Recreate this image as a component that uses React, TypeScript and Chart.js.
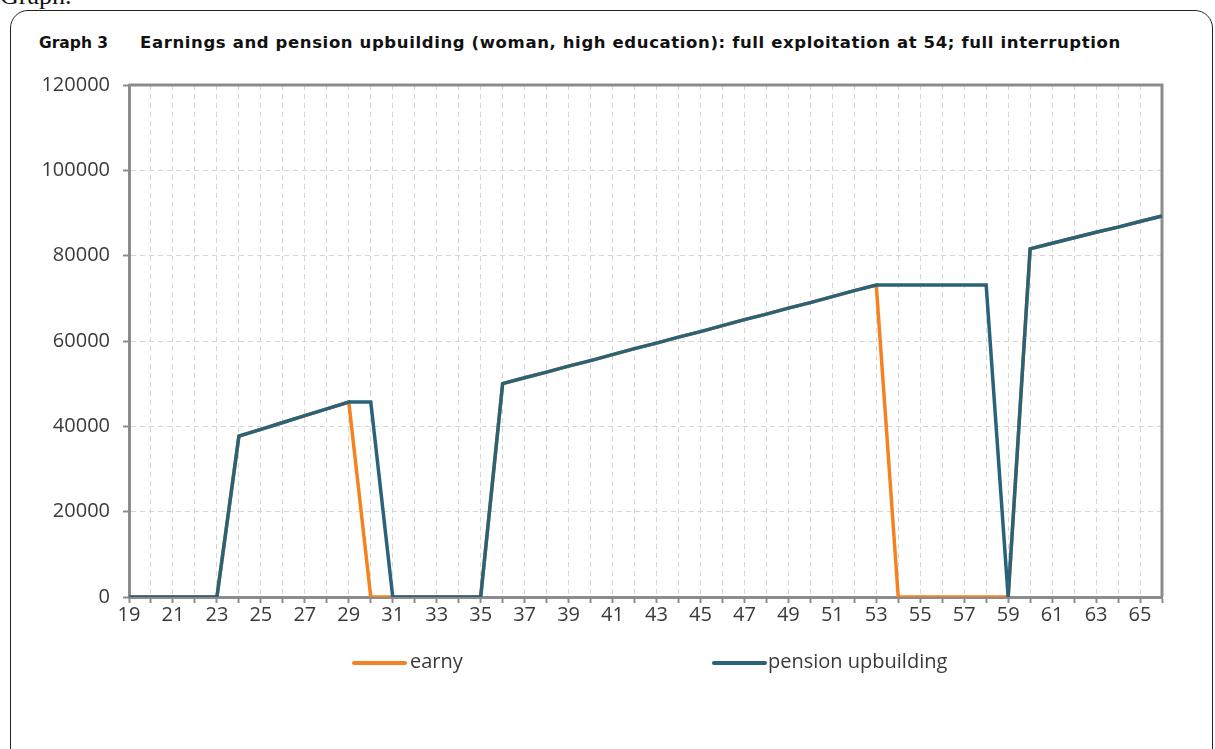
import React, { useEffect, useRef } from "react";
import { Chart, registerables } from "chart.js";

Chart.register(...registerables);

const ages: string[] = [
  "19", "20", "21", "22", "23", "24", "25", "26", "27", "28", "29", "30",
  "31", "32", "33", "34", "35", "36", "37", "38", "39", "40", "41", "42",
  "43", "44", "45", "46", "47", "48", "49", "50", "51", "52", "53", "54",
  "55", "56", "57", "58", "59", "60", "61", "62", "63", "64", "65", "66",
];

const earny: number[] = [
  0, 0, 0, 0, 0,
  37700, 39300, 40900, 42500, 44100, 45700,
  0, 0, 0, 0, 0, 0,
  50000, 51400, 52700, 54100, 55400, 56800, 58200, 59500, 60900, 62200, 63600, 65000, 66300, 67700, 69000, 70400, 71800, 73100,
  0, 0, 0, 0, 0, 0,
  81600, 82900, 84200, 85500, 86700, 88000, 89300,
];

const pensionUpbuilding: number[] = [
  0, 0, 0, 0, 0,
  37700, 39300, 40900, 42500, 44100, 45700,
  45700, 0, 0, 0, 0, 0,
  50000, 51400, 52700, 54100, 55400, 56800, 58200, 59500, 60900, 62200, 63600, 65000, 66300, 67700, 69000, 70400, 71800, 73100,
  73100, 73100, 73100, 73100, 73100, 0,
  81600, 82900, 84200, 85500, 86700, 88000, 89300,
];

const yTicks: number[] = [0, 20000, 40000, 60000, 80000, 100000, 120000];

const ORANGE = "#f5821f";
const TEAL = "#29637a";
const AXIS = "#8c8c8c";
const GRID = "#d6d6d6";
const TEXT = "#3a3a3a";
const FONT = "'Open Sans', 'DejaVu Sans', sans-serif";
const TITLE_FONT = "'DejaVu Sans', 'Open Sans', sans-serif";

const frameBorder = {
  id: "frameBorder",
  beforeDatasetsDraw(chart: any) {
    const { ctx, chartArea } = chart;
    ctx.save();
    ctx.strokeStyle = AXIS;
    ctx.lineWidth = 3;
    ctx.beginPath();
    ctx.moveTo(chartArea.left, chartArea.top);
    ctx.lineTo(chartArea.right, chartArea.top);
    ctx.lineTo(chartArea.right, chartArea.bottom);
    ctx.stroke();
    ctx.restore();
  },
};

export default function App() {
  const canvasRef = useRef<HTMLCanvasElement | null>(null);

  useEffect(() => {
    if (!canvasRef.current) return;
    const chart = new Chart(canvasRef.current, {
      type: "line",
      data: {
        labels: ages,
        datasets: [
          {
            label: "earny",
            data: earny,
            borderColor: ORANGE,
            backgroundColor: ORANGE,
            borderWidth: 3.5,
            pointRadius: 0,
            tension: 0,
            fill: false,
            order: 2,
          },
          {
            label: "pension upbuilding",
            data: pensionUpbuilding,
            borderColor: TEAL,
            backgroundColor: TEAL,
            borderWidth: 3.5,
            pointRadius: 0,
            tension: 0,
            fill: false,
            order: 1,
          },
        ],
      },
      options: {
        animation: false,
        responsive: false,
        maintainAspectRatio: false,
        layout: { padding: { left: 20, right: 53, top: 85, bottom: 112 } },
        plugins: {
          legend: { display: false },
          tooltip: { enabled: false },
          title: { display: false },
        },
        scales: {
          x: {
            type: "category",
            offset: false,
            grid: {
              color: GRID,
              lineWidth: 1,
              tickLength: 6,
              tickColor: AXIS,
              tickWidth: 2,
            },
            border: { color: AXIS, width: 3, dash: [5, 4] },
            ticks: {
              autoSkip: false,
              maxRotation: 0,
              minRotation: 0,
              padding: 0,
              color: TEXT,
              font: { family: FONT, size: 20 },
              callback: (_v: any, i: number) => (i % 2 === 0 ? ages[i] : ""),
            },
            afterFit: (s: any) => {
              s.height = 40;
            },
          },
          y: {
            min: 0,
            max: 120000,
            afterBuildTicks: (s: any) => {
              s.ticks = yTicks.map((v) => ({ value: v }));
            },
            grid: {
              color: GRID,
              lineWidth: 1,
              tickLength: 6,
              tickColor: AXIS,
              tickWidth: 2,
            },
            border: { color: AXIS, width: 3, dash: [5, 4] },
            ticks: {
              padding: 13,
              color: TEXT,
              font: { family: FONT, size: 20 },
              callback: (v: any) => String(v),
            },
            afterFit: (s: any) => {
              s.width = 109;
            },
          },
        },
      },
      plugins: [frameBorder],
    });
    return () => chart.destroy();
  }, []);

  return (
    <div
      style={{
        position: "absolute",
        left: 0,
        top: 0,
        width: 1215,
        height: 749,
        overflow: "hidden",
        background: "#fff",
      }}
    >
      <div
        style={{
          position: "absolute",
          left: 0,
          top: -19,
          fontFamily: "'Liberation Serif', serif",
          fontSize: 26,
          color: "#111",
        }}
      >
        Graph.
      </div>
      <div
        style={{
          position: "absolute",
          left: 10,
          top: 10,
          width: 1203,
          height: 780,
          border: "1px solid #222",
          borderRadius: 18,
          boxSizing: "border-box",
        }}
      />
      <div
        style={{
          position: "absolute",
          left: 39,
          top: 34,
          fontFamily: TITLE_FONT,
          fontWeight: 700,
          fontSize: 15.5,
          color: "#111",
          whiteSpace: "nowrap",
        }}
      >
        Graph 3
      </div>
      <div
        style={{
          position: "absolute",
          left: 140,
          top: 33,
          fontFamily: TITLE_FONT,
          fontWeight: 700,
          fontSize: 16.5,
          letterSpacing: 0.62,
          color: "#111",
          whiteSpace: "nowrap",
        }}
      >
        Earnings and pension upbuilding (woman, high education): full exploitation at 54; full interruption
      </div>
      <canvas
        ref={canvasRef}
        width={1215}
        height={749}
        style={{ position: "absolute", left: 0, top: 0, width: 1215, height: 749 }}
      />
      <div
        style={{
          position: "absolute",
          left: 352,
          top: 661,
          width: 55,
          height: 4,
          borderRadius: 2,
          background: ORANGE,
        }}
      />
      <div
        style={{
          position: "absolute",
          left: 410,
          top: 647,
          fontFamily: FONT,
          fontSize: 20,
          color: TEXT,
          whiteSpace: "nowrap",
        }}
      >
        earny
      </div>
      <div
        style={{
          position: "absolute",
          left: 712,
          top: 661,
          width: 55,
          height: 4,
          borderRadius: 2,
          background: TEAL,
        }}
      />
      <div
        style={{
          position: "absolute",
          left: 768,
          top: 647,
          fontFamily: FONT,
          fontSize: 20,
          color: TEXT,
          whiteSpace: "nowrap",
        }}
      >
        pension upbuilding
      </div>
    </div>
  );
}
